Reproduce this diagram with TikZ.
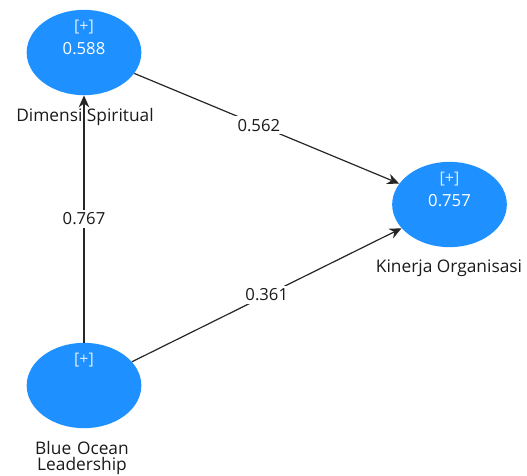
\documentclass[tikz,border=0pt]{standalone}
\usepackage{fontspec}
\setmainfont{Open Sans}
\usepackage{xcolor}
\usetikzlibrary{positioning, arrows.meta, shapes.geometric}

\definecolor{lvblue}{HTML}{1E90FF}
\definecolor{lvtext}{HTML}{1A1A1A}

\tikzset{
    latent/.style={ellipse, fill=lvblue, draw=none, minimum width=86pt, minimum height=64pt, inner sep=0pt},
    plus/.style={font=\fontsize{12}{14}\selectfont, text=white!85!lvblue},
    rsq/.style={font=\fontsize{12.5}{15}\selectfont, text=white},
    cname/.style={font=\fontsize{13}{15}\selectfont, text=lvtext, align=center},
    relpath/.style={draw=black!85, line width=0.9pt, -{Stealth[length=9pt, width=8pt]}},
    coef/.style={font=\fontsize{12.5}{15}\selectfont, text=lvtext, fill=white, inner sep=2pt}
}

\begin{document}
\begin{tikzpicture}[x=0.75pt, y=-0.75pt]
    \useasboundingbox (0, 0) rectangle (527, 475);

    % constructs
    \node[latent] (ds) at (84, 52.5) {};
    \node[latent] (ko) at (449.5, 204.5) {};
    \node[latent] (bol) at (84, 385.5) {};

    \node[plus] (dsp) at ([yshift=19pt]ds.center) {[+]};
    \node[rsq] (dsr) at ([yshift=3pt]ds.center) {0.588};
    \node[plus] (kop) at ([yshift=19pt]ko.center) {[+]};
    \node[rsq] (kor) at ([yshift=3pt]ko.center) {0.757};
    \node[plus] (bolp) at ([yshift=19pt]bol.center) {[+]};

    \node[cname] (dsn) at (85, 117) {Dimensi Spiritual};
    \node[cname] (kon) at (449, 268) {Kinerja Organisasi};
    \node[cname, text width=100pt] (boln) at (82, 458) {Blue Ocean\\[-3pt]Leadership};

    % paths
    \draw[relpath] (bol) -- node[coef] {0.767} (ds);
    \draw[relpath] (ds) -- node[coef, pos=0.47] {0.562} (ko);
    \draw[relpath] (bol) -- node[coef, pos=0.5] {0.361} (ko);
\end{tikzpicture}
\end{document}
